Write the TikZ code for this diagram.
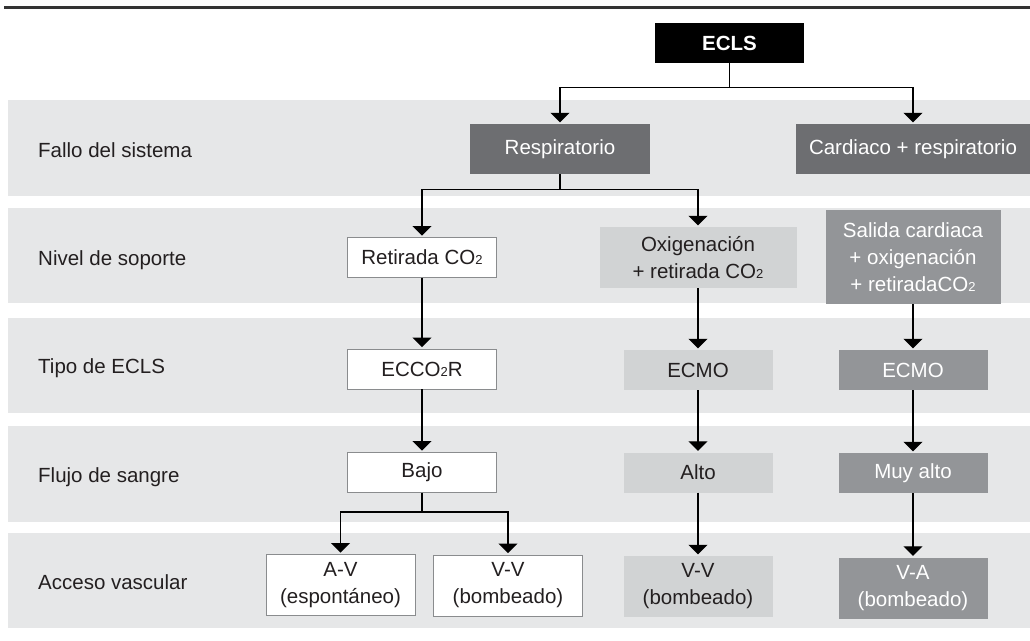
\documentclass[tikz,border=0pt]{standalone}
\usepackage{fontspec}
\setmainfont{Liberation Sans}
\usetikzlibrary{arrows.meta}
\definecolor{band}{HTML}{E6E7E8}
\definecolor{ink}{HTML}{231F20}
\definecolor{boxdark}{HTML}{6D6E71}
\definecolor{boxmid}{HTML}{939598}
\definecolor{boxlight}{HTML}{D1D3D4}
\definecolor{boxedge}{HTML}{8A8C8E}
\newcommand{\boxfont}{\fontsize{20.5}{27}\selectfont}
\newcommand{\lowtwo}{{\fontsize{13}{13}\selectfont 2}}
\newcommand{\cotwo}{CO\lowtwo}

\begin{document}
\begin{tikzpicture}[
  x=1pt, y=-1pt,
  font=\boxfont,
  rowlabel/.style={anchor=base west, text=ink, inner sep=0pt},
  choice/.style={align=center, inner sep=0pt, minimum width=149pt, minimum height=40pt},
  plain/.style={choice, draw=boxedge, line width=0.9pt, fill=white, text=ink},
  soft/.style={choice, fill=boxlight, text=ink},
  mid/.style={choice, fill=boxmid, text=white},
  heavy/.style={choice, fill=boxdark, text=white, minimum height=50pt},
  flow/.style={-{Triangle[width=19pt,length=9.5pt]}, line width=1.3pt, black, shorten >=1.5pt},
]
\useasboundingbox (0,0) rectangle (1030,640);

% ---- background bands and top rule -------------------------------------
\draw[line width=3pt, black!80] (4,7) -- (1030,7);
\foreach \top/\bot in {100/196, 208/303, 318/413, 426/522, 533/628}
  \fill[band] (8,\top) rectangle (1030,\bot);

% ---- row labels ---------------------------------------------------------
\node[rowlabel] (fallo)  at (38,157) {Fallo del sistema};
\node[rowlabel] (nivel)  at (38,265) {Nivel de soporte};
\node[rowlabel] (tipo)   at (38,373) {Tipo de ECLS};
\node[rowlabel] (flujo)  at (38,482) {Flujo de sangre};
\node[rowlabel] (acceso) at (38,589) {Acceso vascular};

% ---- top and system failure ---------------------------------------------
\node[choice, fill=black, text=white, font=\boxfont\bfseries] (ecls) at (729.5,43) {ECLS};
\node[heavy, minimum width=180pt] (resp)   at (560,149) {Respiratorio};
\node[heavy, minimum width=234pt] (cardio) at (913,149) {Cardiaco + respiratorio};

\draw[flow] (ecls.south) -- ++(0,24) -| (resp.north);
\draw[flow] (ecls.south) -- ++(0,24) -| (cardio.north);

% ---- level of support ---------------------------------------------------
\node[plain] (retirada) at (422,257.5) {Retirada \cotwo};
\node[soft, minimum width=197pt, minimum height=61pt] (oxigen) at (698,257.5)
  {Oxigenación\\+ retirada \cotwo};
\node[mid, minimum width=175pt, minimum height=94pt] (salida) at (913,257)
  {Salida cardiaca\\+ oxigenación\\+ retirada\cotwo};

\draw[flow] (resp.south) -- ++(0,15) -| (retirada.north);
\draw[flow] (resp.south) -- ++(0,15) -| (oxigen.north);

% ---- type of ECLS -------------------------------------------------------
\node[plain] (ecco)    at (422,369) {ECCO\lowtwo R};
\node[soft]  (ecmob)   at (698,370) {ECMO};
\node[mid]   (ecmoc)   at (913,370) {ECMO};

\draw[flow] (retirada.south) -- (ecco.north);
\draw[flow] (oxigen.south) -- (ecmob.north);
\draw[flow] (salida.south) -- (ecmoc.north);

% ---- blood flow ---------------------------------------------------------
\node[plain] (bajo)    at (422,472.5) {Bajo};
\node[soft]  (alto)    at (698,472.5) {Alto};
\node[mid]   (muyalto) at (913,473) {Muy alto};

\draw[flow] (ecco.south) -- (bajo.north);
\draw[flow] (ecmob.south) -- (alto.north);
\draw[flow] (ecmoc.south) -- (muyalto.north);

% ---- vascular access ----------------------------------------------------
\node[plain, minimum height=61pt] (av)  at (340.5,585) {A-V\\(espontáneo)};
\node[plain, minimum height=61pt] (vv)  at (508,585.5) {V-V\\(bombeado)};
\node[soft, minimum height=61pt]  (vvb) at (698,586.5) {V-V\\(bombeado)};
\node[mid, minimum height=61pt]   (va)  at (913,588) {V-A\\(bombeado)};

\draw[flow] (bajo.south) -- ++(0,19) -| (av.north);
\draw[flow] (bajo.south) -- ++(0,19) -| (vv.north);
\draw[flow] (alto.south) -- (vvb.north);
\draw[flow] (muyalto.south) -- (va.north);

\end{tikzpicture}
\end{document}
